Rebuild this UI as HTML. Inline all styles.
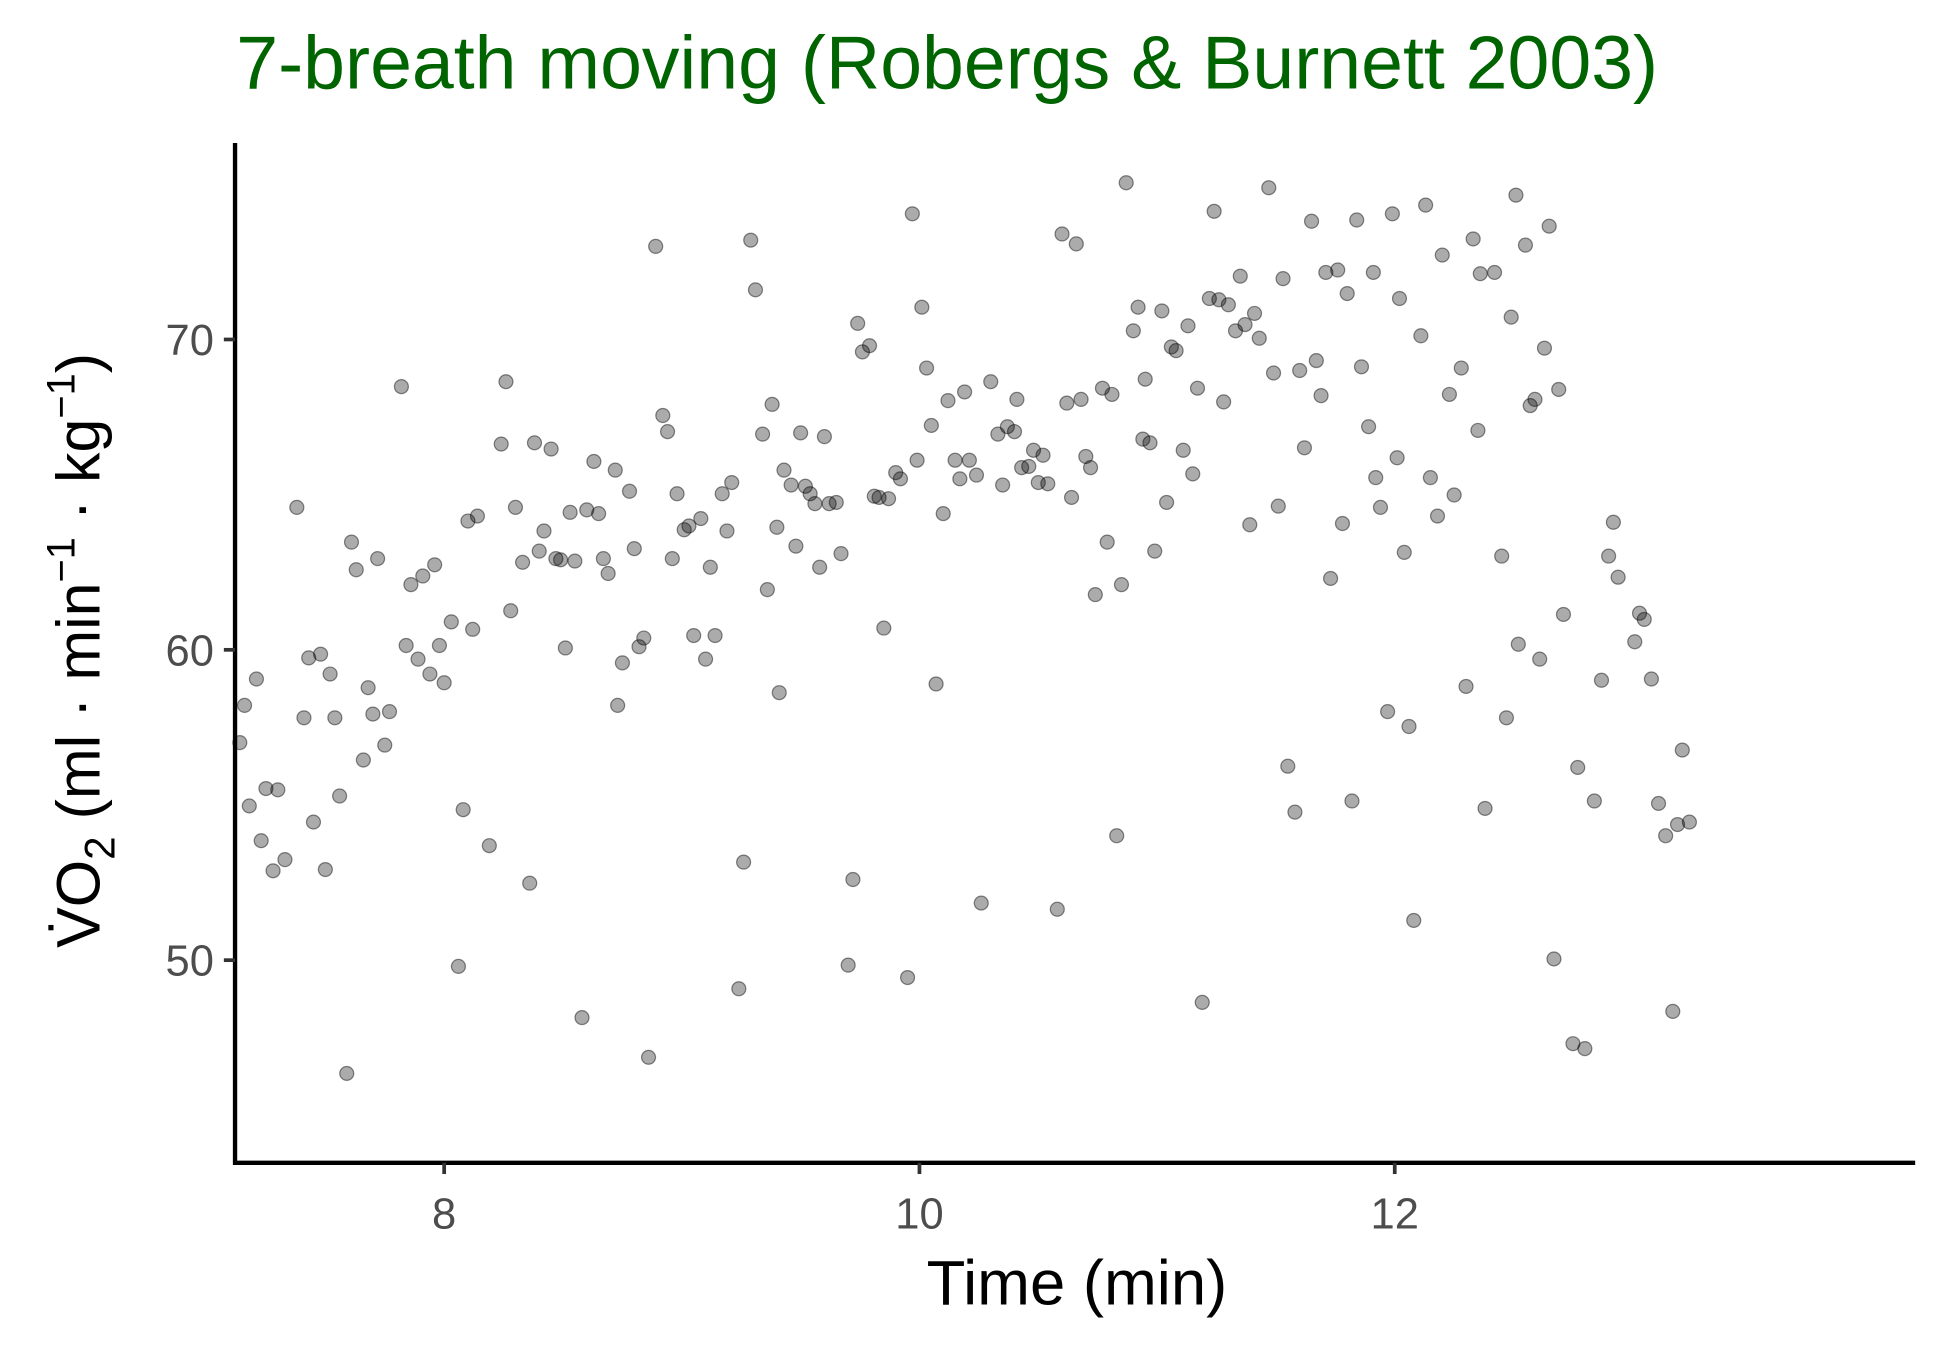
<!DOCTYPE html>
<html><head><meta charset="utf-8"><style>
html,body{margin:0;padding:0;background:#fff;}
svg{display:block;font-family:"Liberation Sans",Arial,sans-serif;}
</style></head><body>
<svg id="chart" width="1950" height="1350" viewBox="0 0 1568 1085.5" preserveAspectRatio="none" xmlns="http://www.w3.org/2000/svg">
<rect x="0" y="0" width="1568" height="1085.5" fill="#fff"/>
<text x="190" y="71" font-size="60.5" fill="#006400">7-breath moving (Robergs &amp; Burnett 2003)</text>
<g id="points"></g>
<g id="axes"></g>
<text x="866" y="1049" font-size="51" text-anchor="middle" fill="#000">Time (min)</text>
<text transform="translate(80,523) rotate(-90)" font-size="49" text-anchor="middle" fill="#000">V̇O<tspan font-size="34" dy="12">2</tspan><tspan dy="-12"> (ml · min</tspan><tspan font-size="32" dy="-20">−1</tspan><tspan dy="20"> · kg</tspan><tspan font-size="32" dy="-20">−1</tspan><tspan dy="20">)</tspan></text>
</svg>
<script>
const times = [7.14,7.16,7.18,7.21,7.23,7.25,7.28,7.30,7.33,7.38,7.41,7.43,7.45,7.48,7.50,7.52,7.54,7.56,7.59,7.61,7.63,7.66,7.68,7.70,7.72,7.75,7.77,7.82,7.84,7.86,7.89,7.91,7.94,7.96,7.98,8.00,8.03,8.06,8.08,8.10,8.12,8.14,8.19,8.24,8.26,8.28,8.30,8.33,8.36,8.38,8.40,8.42,8.45,8.47,8.49,8.51,8.53,8.55,8.58,8.60,8.63,8.65,8.67,8.69,8.72,8.73,8.75,8.78,8.80,8.82,8.84,8.86,8.89,8.92,8.94,8.96,8.98,9.01,9.03,9.05,9.08,9.10,9.12,9.14,9.17,9.19,9.21,9.24,9.26,9.29,9.31,9.34,9.36,9.38,9.40,9.41,9.43,9.46,9.48,9.50,9.52,9.54,9.56,9.58,9.60,9.62,9.65,9.67,9.70,9.72,9.74,9.76,9.79,9.81,9.83,9.85,9.87,9.90,9.92,9.95,9.97,9.99,10.01,10.03,10.05,10.07,10.10,10.12,10.15,10.17,10.19,10.21,10.24,10.26,10.30,10.33,10.35,10.37,10.40,10.41,10.43,10.46,10.48,10.50,10.52,10.54,10.58,10.60,10.62,10.64,10.66,10.68,10.70,10.72,10.74,10.77,10.79,10.81,10.83,10.85,10.87,10.90,10.92,10.94,10.95,10.97,10.99,11.02,11.04,11.06,11.08,11.11,11.13,11.15,11.17,11.19,11.22,11.24,11.26,11.28,11.30,11.33,11.35,11.37,11.39,11.41,11.43,11.47,11.49,11.51,11.53,11.55,11.58,11.60,11.62,11.65,11.67,11.69,11.71,11.73,11.76,11.78,11.80,11.82,11.84,11.86,11.89,11.91,11.92,11.94,11.97,11.99,12.01,12.02,12.04,12.06,12.08,12.11,12.13,12.15,12.18,12.20,12.23,12.25,12.28,12.30,12.33,12.35,12.36,12.38,12.42,12.45,12.47,12.49,12.51,12.52,12.55,12.57,12.59,12.61,12.63,12.65,12.67,12.69,12.71,12.75,12.77,12.80,12.84,12.87,12.90,12.92,12.94,13.01,13.03,13.05,13.08,13.11,13.14,13.17,13.19,13.21,13.24];
const vo2 = [57.01,58.21,54.97,59.06,53.85,55.53,52.88,55.49,53.24,64.59,57.81,59.74,54.45,59.86,52.92,59.22,57.81,55.29,46.35,63.47,62.58,56.45,58.78,57.93,62.94,56.93,58.01,68.48,60.14,62.10,59.70,62.38,59.22,62.74,60.14,58.94,60.90,49.80,54.85,64.15,60.66,64.31,53.69,66.63,68.64,61.26,64.59,62.82,52.48,66.67,63.18,63.83,66.47,62.94,62.90,60.06,64.43,62.86,48.15,64.51,66.07,64.39,62.94,62.46,65.79,58.21,59.58,65.11,63.26,60.10,60.38,46.87,73.00,67.55,67.03,62.94,65.03,63.87,63.99,60.46,64.23,59.70,62.66,60.46,65.03,63.83,65.39,49.08,53.16,73.20,71.60,66.95,61.94,67.91,63.95,58.62,65.79,65.31,63.34,66.99,65.27,65.03,64.71,62.66,66.87,64.71,64.75,63.10,49.84,52.60,70.52,69.60,69.80,64.95,64.91,60.70,64.87,65.71,65.51,49.44,74.05,66.11,71.04,69.08,67.23,58.90,64.39,68.03,66.11,65.51,68.31,66.11,65.63,51.84,68.64,66.95,65.31,67.19,67.03,68.07,65.87,65.91,66.43,65.39,66.27,65.35,51.64,73.40,67.95,64.91,73.08,68.07,66.23,65.87,61.78,68.43,63.47,68.23,54.01,62.10,75.05,70.28,71.04,66.79,68.72,66.67,63.18,70.92,64.75,69.76,69.64,66.43,70.44,65.67,68.43,48.64,71.32,74.13,71.28,67.99,71.12,70.28,72.04,70.48,64.03,70.84,70.04,74.89,68.92,64.63,71.96,56.25,54.77,69.00,66.51,73.81,69.32,68.19,72.16,62.30,72.24,64.07,71.48,55.13,73.85,69.12,67.19,72.16,65.55,64.59,58.01,74.05,66.19,71.32,63.14,57.53,51.28,70.12,74.33,65.55,64.31,72.72,68.23,64.99,69.08,58.82,73.24,67.07,72.12,54.89,72.16,63.02,57.81,70.72,74.65,60.18,73.04,67.87,68.07,59.70,69.72,73.65,50.04,68.39,61.14,47.31,56.21,47.15,55.13,59.02,63.02,64.11,62.34,60.26,61.18,60.98,59.06,55.05,54.01,48.35,54.37,56.77,54.45];
const xTicks = [8,10,12];
const yTicks = [50,60,70];

const NS = 'http://www.w3.org/2000/svg';
const x0 = 189, x1 = 1540, y0 = 935, y1 = 115;
const xMin = 7.12, xMax = 14.19, yMin = 43.47, yMax = 76.33;
function sx(v){ return x0 + (v - xMin) / (xMax - xMin) * (x1 - x0); }
function sy(v){ return y0 - (v - yMin) / (yMax - yMin) * (y0 - y1); }
function mk(tag, attrs){ const e = document.createElementNS(NS, tag); for (const k in attrs) e.setAttribute(k, attrs[k]); return e; }

const pts = document.getElementById('points');
for (let i = 0; i < times.length; i++) {
  const c = mk('circle', {cx: sx(times[i]), cy: sy(vo2[i]), r: 5.6, fill: 'rgba(0,0,0,0.33)', stroke: 'rgba(0,0,0,0.45)', 'stroke-width': 1});
  
  
  pts.appendChild(c);
}

const ax = document.getElementById('axes');
const xl = mk('line', {x1: x0, y1: y0, x2: x1, y2: y0, stroke: '#000', 'stroke-width': 3.5});


ax.appendChild(xl);
const yl = mk('line', {x1: x0, y1: y0 + 1.7, x2: x0, y2: y1, stroke: '#000', 'stroke-width': 3.5});


ax.appendChild(yl);
xTicks.forEach(t => {
  const l = mk('line', {x1: sx(t), y1: y0, x2: sx(t), y2: y0 + 9, stroke: '#333', 'stroke-width': 3});
  
  
  ax.appendChild(l);
  const tx = mk('text', {x: sx(t), y: 988, 'font-size': 35, 'text-anchor': 'middle', fill: '#4d4d4d'});
  tx.textContent = t;
  
  
  ax.appendChild(tx);
});
yTicks.forEach(t => {
  const l = mk('line', {x1: x0 - 9, y1: sy(t), x2: x0, y2: sy(t), stroke: '#333', 'stroke-width': 3});
  
  
  ax.appendChild(l);
  const tx = mk('text', {x: 172, y: sy(t) + 12.5, 'font-size': 35, 'text-anchor': 'end', fill: '#4d4d4d'});
  tx.textContent = t;
  
  
  ax.appendChild(tx);
});
</script>
</body></html>
